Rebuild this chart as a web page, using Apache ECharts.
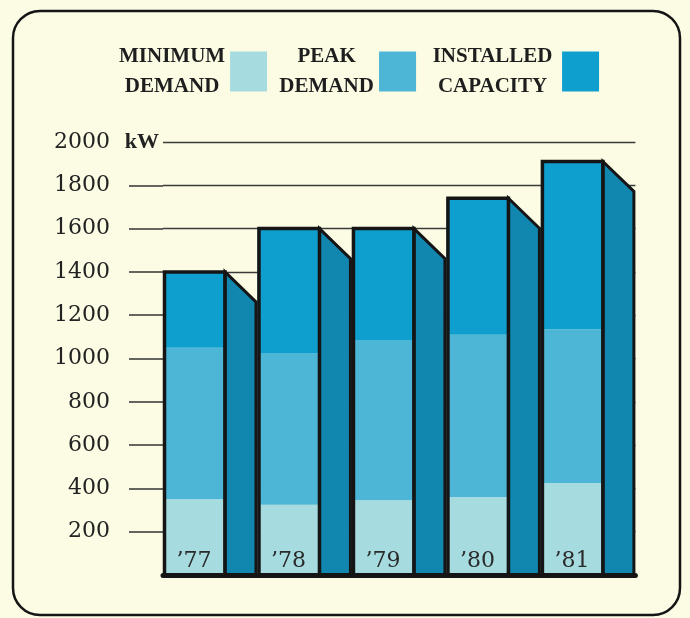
<!DOCTYPE html>
<html>
<head>
<meta charset="utf-8">
<script src="https://cdn.jsdelivr.net/npm/echarts@6/dist/echarts.min.js"></script>
<style>
  html, body { margin: 0; padding: 0; background: #fcfce4; }
  #chart { width: 690px; height: 618px; }
</style>
</head>
<body>
<div id="chart"></div>
<script>
// ---- data ----
const years = ['\u201977', '\u201978', '\u201979', '\u201980', '\u201981'];
const minimumDemand = [350, 325, 345, 360, 425];
const peakDemand = [1050, 1025, 1085, 1110, 1135];
const installedCapacity = [1400, 1600, 1600, 1740, 1910];
const yTicks = [200, 400, 600, 800, 1000, 1200, 1400, 1600, 1800];
const seriesNames = ['MINIMUM\nDEMAND', 'PEAK\nDEMAND', 'INSTALLED\nCAPACITY'];

// ---- styles ----
const COL_MIN = '#a6dcdf';
const COL_PEAK = '#4db5d6';
const COL_CAP = '#0f9fcf';
const COL_SIDE = '#1186af';
const INK = '#151515';
const FRONT_W = 62;
const SIDE_DROP = 30;
const SERIF = '"Liberation Serif", "DejaVu Serif", serif';
const NUMF = '"DejaVu Serif", "Liberation Serif", serif';

const chart = echarts.init(document.getElementById('chart'), null, { renderer: 'canvas' });

// stacked segment sizes derived from the read values
const peakPart = peakDemand.map((v, i) => v - minimumDemand[i]);
const capPart = installedCapacity.map((v, i) => v - peakDemand[i]);

function renderOutline(params, api) {
  const i = api.value(0);
  const v = api.value(1);
  const top = api.coord([i, v]);
  const base = api.coord([i, 0]);
  const band = api.size([1, 0])[0];
  const x0 = top[0] - band / 2;
  const xf = x0 + FRONT_W;
  const x1 = x0 + band;
  return {
    type: 'group',
    children: [
      {
        type: 'polygon',
        shape: { points: [[xf, top[1]], [x1 - 1.5, top[1] + SIDE_DROP], [x1 - 1.5, base[1]], [xf, base[1]]] },
        style: { fill: COL_SIDE, stroke: INK, lineWidth: 3, lineJoin: 'miter' }
      },
      {
        type: 'rect',
        shape: { x: x0 + 1.5, y: top[1], width: FRONT_W - 1.5, height: base[1] - top[1] },
        style: { fill: 'none', stroke: INK, lineWidth: 3.5 }
      }
    ]
  };
}

const lg = { align: 'center', fontFamily: SERIF, fontWeight: 'bold', fontSize: 21, color: '#1e1e1e', lineHeight: 30 };
const legendRich = {
  w1: Object.assign({ width: 106 }, lg),
  w2: Object.assign({ width: 95 }, lg),
  w3: Object.assign({ width: 129 }, lg)
};

chart.setOption({
  backgroundColor: '#fcfce4',
  animation: false,
  graphic: [{
    type: 'rect',
    shape: { x: 13, y: 11, width: 667, height: 604, r: 27 },
    style: { fill: 'none', stroke: INK, lineWidth: 2.5 },
    z: 0
  }],
  legend: {
    left: 114,
    top: 41,
    align: 'right',
    itemWidth: 37,
    itemHeight: 40,
    itemGap: 12,
    icon: 'rect',
    data: seriesNames,
    formatter: function (name) {
      const k = 'w' + (seriesNames.indexOf(name) + 1);
      return name.split('\n').map(s => '{' + k + '|' + s + '}').join('\n');
    },
    textStyle: { rich: legendRich }
  },
  grid: { left: 163, right: 54.6, top: 142, bottom: 43 },
  xAxis: {
    type: 'category',
    data: years,
    axisLabel: { show: false },
    axisTick: { show: false },
    axisLine: { show: true, lineStyle: { color: INK, width: 5 } },
    offset: 2,
    z: 10
  },
  yAxis: [
    {
      type: 'value',
      min: 0,
      max: 2000,
      interval: 200,
      axisLine: { show: false },
      axisTick: { show: true, length: 34, customValues: yTicks, lineStyle: { color: '#333', width: 1.5 } },
      splitLine: { show: false },
      axisLabel: {
        margin: 4,
        formatter: function (v) {
          if (v === 0) return '';
          if (v === 2000) return '{n|' + v + '}{k|kW}';
          return '{n|' + v + '}{p|}';
        },
        rich: {
          n: { fontFamily: NUMF, fontSize: 22, color: '#222' },
          k: { fontFamily: SERIF, fontSize: 22, fontWeight: 'bold', color: '#222', width: 49, align: 'right' },
          p: { width: 49 }
        }
      }
    },
    {
      type: 'value',
      position: 'right',
      min: 0,
      max: 2000,
      interval: 200,
      axisLine: { show: false },
      axisTick: { show: false },
      axisLabel: { show: false },
      splitLine: { show: true, showMinLine: true, showMaxLine: true, lineStyle: { color: '#3a3a3a', width: 1.4 } }
    }
  ],
  series: [
    {
      name: seriesNames[0], type: 'bar', stack: 'front', barWidth: FRONT_W, barGap: 0,
      data: minimumDemand, itemStyle: { color: COL_MIN },
      label: {
        show: true, position: 'insideBottom', distance: 3, formatter: '{b}',
        fontFamily: NUMF, fontSize: 22, color: '#2a2a2a'
      }
    },
    {
      name: seriesNames[1], type: 'bar', stack: 'front', barWidth: FRONT_W, barGap: 0,
      data: peakPart, itemStyle: { color: COL_PEAK }
    },
    {
      name: seriesNames[2], type: 'bar', stack: 'front', barWidth: FRONT_W, barGap: 0,
      data: capPart, itemStyle: { color: COL_CAP }
    },
    {
      name: 'side', type: 'bar', stack: 'side', barWidth: 32.4, barGap: 0,
      data: installedCapacity, itemStyle: { color: 'rgba(0,0,0,0)' }, silent: true
    },
    {
      name: 'outline', type: 'custom', z: 5, silent: true,
      data: installedCapacity.map((v, i) => [i, v]),
      encode: { x: 0, y: 1 },
      renderItem: renderOutline
    }
  ]
});
</script>
</body>
</html>
